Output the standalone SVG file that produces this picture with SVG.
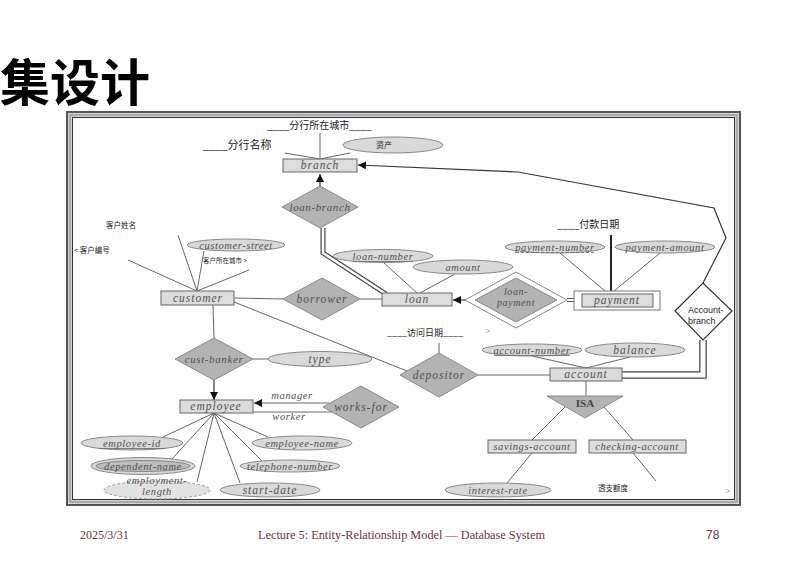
<svg xmlns="http://www.w3.org/2000/svg" width="803" height="568" viewBox="0 0 803 568">
<defs>
<marker id="arr" viewBox="0 0 10 10" refX="10" refY="5" markerWidth="8" markerHeight="8" markerUnits="userSpaceOnUse" orient="auto">
<path d="M0,0 L10,5 L0,10 z" fill="#111"/>
</marker>
</defs>
<style>
.ent{fill:#dcdcdc;stroke:#666;stroke-width:1}
.rel{fill:#b3b3b3;stroke:#8a8a8a;stroke-width:1}
.att{fill:#d9d9d9;stroke:#888;stroke-width:1}
.lbl{font-family:"Liberation Serif",serif;font-style:italic;font-size:10.5px;fill:#505050;letter-spacing:0.6px;text-anchor:middle}
.big{font-size:11.5px;letter-spacing:1px}
.cn{font-family:"Noto Sans CJK SC",sans-serif;fill:#222}
.ln{stroke:#666;stroke-width:1;fill:none}
.dk{stroke:#333;stroke-width:1.2;fill:none}
.ul{stroke:#666;stroke-width:0.8}
.foot{font-family:"Liberation Serif",serif;font-size:12px;fill:#6d3343}
</style>
<rect width="803" height="568" fill="#fff"/>
<text x="0" y="101" font-family="Noto Sans CJK SC, sans-serif" font-weight="bold" font-size="50" fill="#000">集设计</text>
<g id="frame">
<rect x="67" y="112" width="673" height="393" fill="#fff" stroke="#555" stroke-width="2"/>
<rect x="70" y="115" width="667" height="387" fill="none" stroke="#aaa" stroke-width="3"/>
<rect x="72.5" y="117.5" width="662" height="382" fill="none" stroke="#333" stroke-width="1"/>
</g>
<g id="connectors">
<path class="ln" d="M320,133 L320,159 M285,153 L320,159 M350,153 L320,159"/>
<path class="dk" d="M320,186 L320,174" marker-end="url(#arr)"/>
<path d="M323,228 L323,253 L386,294" fill="none" stroke="#444" stroke-width="5"/>
<path d="M323,228 L323,253 L386,294" fill="none" stroke="#fff" stroke-width="2.6"/>
<path class="ln" d="M383,262 L417,293 M455,274 L420,293"/>
<path class="ln" d="M234,298 L283,299 M360,299 L382,299"/>
<path class="ln" d="M234,302 L407,371"/>
<path class="ln" d="M439,343 L439,353"/>
<path class="ln" d="M478,375 L550,375"/>
<path class="ln" d="M532,356 L586,368 M630,357 L586,368"/>
<path class="ln" d="M586,381 L586,396"/>
<path class="ln" d="M565,407 L532,440 M604,407 L633,440"/>
<path class="ln" d="M532,453 L507,483 M633,453 L656,481"/>
<path class="dk" d="M465,300 L453,300" marker-end="url(#arr)"/>
<path d="M567,300 L574,300" stroke="#555" stroke-width="4"/>
<path d="M567,300 L574,300" stroke="#fff" stroke-width="2"/>
<path class="ln" d="M560,253 L605,291 M660,253 L614,291"/>
<path d="M611,235 L611,291" stroke="#222" stroke-width="2"/>
<path d="M703,340 L703,375 L622,375" fill="none" stroke="#444" stroke-width="7.5"/>
<path d="M703,340 L703,375 L622,375" fill="none" stroke="#fff" stroke-width="5"/>
<path class="dk" d="M703,283 L726,238 L714,208 L518,172 L358,165" marker-end="url(#arr)"/>
<path class="ln" d="M178,235 L197,291 M128,260 L197,291 M204,251 L197,291 M249,270 L197,291"/>
<path class="ln" d="M213,305 L214,338"/>
<path class="ln" d="M253,359 L268,359"/>
<path class="dk" d="M214,380 L214,400" marker-end="url(#arr)"/>
<path class="ln" d="M329,403 L254,403" marker-end="url(#arr)"/>
<path class="ln" d="M333,412 L253,412"/>
<path class="ln" d="M214,413 L163,437 M214,413 L172,459 M214,413 L197,482 M214,413 L240,483 M214,413 L262,461 M214,413 L268,437"/>
</g>
<g id="branch">
<rect class="ent" x="283" y="159" width="74" height="13"/>
<text class="lbl big" x="320" y="169">branch</text>
</g>
<g id="branch-city">
<rect x="265" y="118" width="102" height="14" fill="#fff"/>
<text class="cn" x="267" y="129" font-size="10">____分行所在城市____</text>
</g>
<g id="branch-name">
<text class="cn" x="203" y="149" font-size="11">____分行名称</text>
</g>
<g id="assets">
<ellipse class="att" cx="393" cy="145" rx="50" ry="8"/>
<text class="cn" x="376" y="147.5" font-size="8">资产</text>
</g>
<g id="loan-branch">
<polygon class="rel" points="282,207 320,186 358,207 320,228"/>
<text class="lbl" x="320" y="211" style="font-size:11px">loan-branch</text>
</g>
<g id="customer">
<rect class="ent" x="161" y="291" width="73" height="14"/>
<text class="lbl big" x="198" y="302">customer</text>
</g>
<g id="customer-name"><text class="cn" x="106" y="228" font-size="7.5">客户姓名</text></g>
<g id="customer-id"><text class="cn" x="74" y="253" font-size="7.5">&lt; 客户编号</text></g>
<g id="customer-street">
<ellipse class="att" cx="236" cy="245" rx="49" ry="6"/>
<text class="lbl" x="236" y="249">customer-street</text>
</g>
<g id="customer-city"><text class="cn" x="203" y="263" font-size="6.5">客户所在城市 &gt;</text></g>
<g id="loan-number">
<ellipse class="att" cx="383" cy="256" rx="50" ry="6.5"/>
<text class="lbl" x="383" y="260">loan-number</text>
<line class="ul" x1="353" y1="261.5" x2="413" y2="261.5"/>
</g>
<g id="amount">
<ellipse class="att" cx="463" cy="267" rx="50" ry="7"/>
<text class="lbl" x="463" y="271">amount</text>
</g>
<g id="loan">
<rect class="ent" x="382" y="293" width="70" height="13"/>
<text class="lbl big" x="417" y="303">loan</text>
</g>
<g id="borrower">
<polygon class="rel" points="283,299 322,278 360,299 322,320"/>
<text class="lbl big" x="322" y="303">borrower</text>
</g>
<g id="loan-payment">
<polygon points="465,300 516,272 567,300 516,328" fill="#fff" stroke="#888" stroke-width="1"/>
<polygon class="rel" points="475,300 516,278 557,300 516,322"/>
<text class="lbl" x="516" y="295" style="font-size:10px">loan-</text>
<text class="lbl" x="516" y="306" style="font-size:10px">payment</text>
</g>
<g id="payment">
<rect x="574" y="291" width="86" height="19" fill="#fff" stroke="#777" stroke-width="1"/>
<rect class="ent" x="582" y="294" width="71" height="13"/>
<text class="lbl big" x="617" y="304">payment</text>
</g>
<g id="payment-date"><text class="cn" x="557" y="228" font-size="10">____付款日期</text></g>
<g id="payment-number">
<ellipse class="att" cx="555" cy="247" rx="50" ry="6"/>
<text class="lbl" x="555" y="251">payment-number</text>
<line class="ul" x1="516" y1="252.5" x2="594" y2="252.5" stroke-dasharray="3,2"/>
</g>
<g id="payment-amount">
<ellipse class="att" cx="665" cy="247" rx="50" ry="6"/>
<text class="lbl" x="665" y="251">payment-amount</text>
</g>
<g id="account-branch">
<polygon points="675,311 703,283 732,311 703,340" fill="#fff" stroke="#333" stroke-width="1.2"/>
<text x="688" y="313" font-family="Liberation Sans, sans-serif" font-size="9" fill="#222">Account-</text>
<text x="688" y="324" font-family="Liberation Sans, sans-serif" font-size="9" fill="#222">branch</text>
</g>
<g id="visit-date">
<text class="cn" x="387" y="336" font-size="9">____访问日期____</text>
<text x="485" y="334" font-family="Liberation Sans, sans-serif" font-size="9" fill="#aaa">&gt;</text>
</g>
<g id="depositor">
<polygon class="rel" points="400,375 439,353 478,375 439,397"/>
<text class="lbl big" x="439" y="379">depositor</text>
</g>
<g id="account">
<rect class="ent" x="550" y="368" width="72" height="13"/>
<text class="lbl big" x="586" y="378">account</text>
</g>
<g id="account-number">
<ellipse class="att" cx="532" cy="350" rx="50" ry="6"/>
<text class="lbl" x="532" y="354">account-number</text>
<line class="ul" x1="494" y1="355.5" x2="570" y2="355.5"/>
</g>
<g id="balance">
<ellipse class="att" cx="635" cy="350" rx="50" ry="7"/>
<text class="lbl big" x="635" y="354">balance</text>
</g>
<g id="isa">
<polygon class="rel" points="547,396 623,396 585,418"/>
<text x="585" y="407" font-family="Liberation Serif, serif" font-weight="bold" font-size="11" fill="#444" text-anchor="middle">ISA</text>
</g>
<g id="savings-account">
<rect class="ent" x="488" y="440" width="88" height="13"/>
<text class="lbl" x="532" y="450">savings-account</text>
</g>
<g id="checking-account">
<rect class="ent" x="589" y="440" width="97" height="13"/>
<text class="lbl" x="637" y="450">checking-account</text>
</g>
<g id="interest-rate">
<ellipse class="att" cx="498" cy="490" rx="53" ry="7"/>
<text class="lbl" x="498" y="494">interest-rate</text>
</g>
<g id="overdraft">
<text class="cn" x="598" y="491" font-size="7.5">透支额度</text>
<text x="725" y="494" font-family="Liberation Sans, sans-serif" font-size="9" fill="#aaa">&gt;</text>
</g>
<g id="cust-banker">
<polygon class="rel" points="175,359 214,338 253,359 214,380"/>
<text class="lbl" x="214" y="363" style="font-size:11px">cust-banker</text>
</g>
<g id="type">
<ellipse class="att" cx="320" cy="359" rx="52" ry="7.5"/>
<text class="lbl big" x="320" y="363">type</text>
</g>
<g id="employee">
<rect class="ent" x="180" y="400" width="73" height="13"/>
<text class="lbl big" x="216" y="410">employee</text>
</g>
<g id="works-for">
<polygon class="rel" points="323,407 361,386 399,407 361,428"/>
<text class="lbl big" x="361" y="411">works-for</text>
<text class="lbl" x="292" y="399">manager</text>
<text class="lbl" x="289" y="420">worker</text>
</g>
<g id="employee-id">
<ellipse class="att" cx="132" cy="443" rx="51" ry="7"/>
<text class="lbl" x="132" y="447">employee-id</text>
<line class="ul" x1="100" y1="448.5" x2="164" y2="448.5"/>
</g>
<g id="employee-name">
<ellipse class="att" cx="302" cy="443" rx="50" ry="7"/>
<text class="lbl" x="302" y="447">employee-name</text>
</g>
<g id="dependent-name">
<ellipse class="att" cx="143" cy="466" rx="52" ry="8.5"/>
<ellipse cx="143" cy="466" rx="47" ry="5.5" fill="#bdbdbd" stroke="#888" stroke-width="1"/>
<text class="lbl" x="143" y="470">dependent-name</text>
</g>
<g id="telephone-number">
<ellipse class="att" cx="290" cy="466" rx="50" ry="6"/>
<text class="lbl" x="290" y="470">telephone-number</text>
</g>
<g id="employment-length">
<ellipse cx="157" cy="490" rx="53" ry="9" fill="#e2e2e2" stroke="#999" stroke-width="1" stroke-dasharray="3,2"/>
<text class="lbl" x="157" y="484">employment-</text>
<text class="lbl" x="157" y="495">length</text>
</g>
<g id="start-date">
<ellipse class="att" cx="270" cy="490" rx="50" ry="7"/>
<text class="lbl big" x="270" y="494">start-date</text>
</g>
<g id="footer">
<text class="foot" x="80" y="539">2025/3/31</text>
<text class="foot" x="258" y="539" textLength="287" lengthAdjust="spacingAndGlyphs">Lecture 5: Entity-Relationship Model — Database System</text>
<text x="706" y="539" font-family="Liberation Sans, sans-serif" font-size="12" fill="#6d3343">78</text>
</g>
</svg>
